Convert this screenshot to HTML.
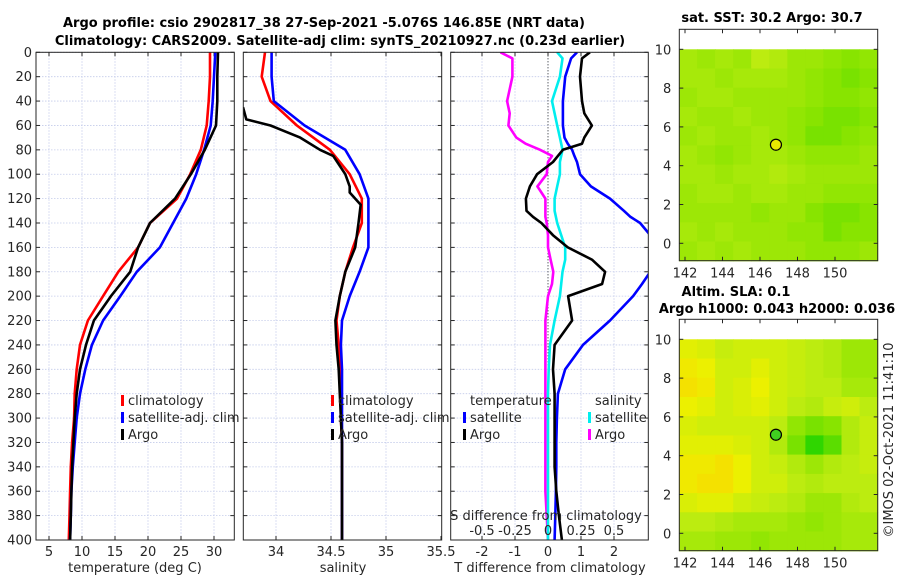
<!DOCTYPE html>
<html><head><meta charset="utf-8">
<style>
body{margin:0;background:#fff;}
svg text{font-family:"DejaVu Sans","Liberation Sans",sans-serif;fill:#262626;}
.t{font-weight:bold;font-size:13px;fill:#000;}
.tk{font-size:13px;}
</style></head>
<body>
<svg id="fig" width="900" height="580" viewBox="0 0 900 580" xmlns="http://www.w3.org/2000/svg">
<text class="t" x="324" y="27" text-anchor="middle">Argo profile: csio 2902817_38 27-Sep-2021 -5.076S 146.85E (NRT data)</text>
<text class="t" x="340" y="45" text-anchor="middle">Climatology: CARS2009. Satellite-adj clim: synTS_20210927.nc (0.23d earlier)</text>
<text class="t" x="772" y="22" text-anchor="middle">sat. SST: 30.2 Argo: 30.7</text>
<text class="t" x="736" y="296" text-anchor="middle">Altim. SLA: 0.1</text>
<text class="t" x="777" y="313" text-anchor="middle">Argo h1000: 0.043 h2000: 0.036</text>
<text class="tk" transform="translate(893,440) rotate(-90)" text-anchor="middle">©IMOS 02-Oct-2021 11:41:10</text>
<g id="root"></g>
</svg>
<script>
// ---- data ----
const depths = [0,20,40,60,80,100,120,140,160,180,200,220,240,260,280,300,320,340,360,380,400];
const tempClim = [29.4,29.4,29.2,28.9,28.0,26.4,24.4,20.3,18.5,15.5,13.2,10.9,9.7,9.2,8.9,8.8,8.5,8.3,8.2,8.1,8.0];
const tempSat  = [30.2,30.0,29.8,29.5,28.5,27.3,25.8,23.8,21.8,18.3,15.8,13.2,11.5,10.5,9.7,9.2,8.9,8.6,8.4,8.3,8.2];
const tempArgo = [30.6,30.5,30.5,30.3,28.6,26.5,24.1,20.3,18.5,17.3,14.4,11.8,10.6,9.7,9.2,8.9,8.7,8.5,8.4,8.3,8.2];
const salClim = [33.90,33.87,33.95,34.19,34.49,34.67,34.78,34.78,34.70,34.63,34.58,34.55,34.57,34.58,34.59,34.59,34.60,34.60,34.60,34.60,34.60];
const salSat  = [33.96,33.96,33.98,34.26,34.63,34.76,34.84,34.84,34.84,34.76,34.67,34.60,34.59,34.60,34.60,34.60,34.60,34.60,34.60,34.60,34.60];
const salArgoDepths = [45,55,60,70,80,85,100,110,115,125,140,160,180,200,220,240,260,280,300,320,340,360,380,400];
const salArgo = [33.70,33.73,33.95,34.22,34.40,34.52,34.63,34.67,34.67,34.77,34.75,34.72,34.63,34.58,34.54,34.55,34.57,34.58,34.59,34.60,34.60,34.60,34.60,34.60];
const diffDepths = [0,5,20,40,50,60,70,75,80,85,90,100,110,120,130,135,140,150,160,170,180,190,200,220,240,260,280,300,320,340,360,380,400];
const tDiffArgo = [1.27,1.03,0.97,1.03,1.1,1.33,1.1,1.03,0.45,0.3,0.15,-0.33,-0.55,-0.67,-0.65,-0.45,-0.2,0.15,0.6,1.33,1.73,1.64,0.61,0.73,0.2,0.15,0.2,0.2,0.2,0.2,0.25,0.33,0.42];
const tDiffSat  = [0.88,0.7,0.52,0.45,0.45,0.45,0.5,0.6,0.73,0.8,0.88,0.97,1.3,1.88,2.3,2.5,2.79,3.1,3.3,3.3,3.1,2.85,2.58,1.88,1.06,0.52,0.3,0.27,0.25,0.25,0.24,0.22,0.2];
const sDiffSat  = [0.07,0.11,0.09,0.03,0.05,0.07,0.09,0.1,0.11,0.1,0.09,0.09,0.07,0.05,0.05,0.06,0.07,0.1,0.13,0.13,0.11,0.1,0.09,0.05,0.015,0.005,0.0,0.0,0.0,0.0,0.0,0.0,0.0];
const sDiffArgo = [-0.36,-0.27,-0.27,-0.31,-0.29,-0.30,-0.24,-0.17,-0.06,0.03,0.0,-0.01,-0.08,-0.02,-0.02,-0.02,-0.01,0.0,0.0,0.02,0.04,0.03,0.0,-0.02,-0.02,-0.02,-0.02,-0.02,-0.02,-0.02,-0.02,-0.01,0.0];
const depthTicks = [0,20,40,60,80,100,120,140,160,180,200,220,240,260,280,300,320,340,360,380,400];
const tempTicks = [5,10,15,20,25,30];
const salTicks = [34,34.5,35,35.5];
const salTickLabels = ["34","34.5","35","35.5"];
const tdTicks = [-2,-1,0,1,2];
const sdTicks = [-0.5,-0.25,0,0.25,0.5];
const sdTickLabels = ["-0.5","-0.25","0","0.25","0.5"];
const mapLonTicks = [142,144,146,148,150];
const mapLatTicks = [0,2,4,6,8,10];
// map grids: rows lat 10->-1 (11 rows), cols lon 141.7->152.3 (11 cols); 0=green,1=yellow
const sstGrid = [
[0.5,0.45,0.5,0.45,0.6,0.55,0.45,0.45,0.4,0.35,0.4],
[0.5,0.5,0.45,0.5,0.5,0.5,0.45,0.4,0.35,0.3,0.35],
[0.45,0.5,0.5,0.45,0.45,0.45,0.45,0.4,0.35,0.35,0.4],
[0.5,0.45,0.45,0.5,0.45,0.45,0.4,0.35,0.3,0.3,0.35],
[0.45,0.5,0.45,0.45,0.5,0.45,0.4,0.3,0.3,0.35,0.4],
[0.5,0.45,0.4,0.45,0.5,0.5,0.45,0.4,0.4,0.4,0.45],
[0.5,0.5,0.45,0.5,0.5,0.55,0.5,0.45,0.45,0.45,0.45],
[0.45,0.5,0.5,0.45,0.5,0.5,0.45,0.45,0.4,0.4,0.4],
[0.45,0.45,0.45,0.45,0.4,0.45,0.45,0.35,0.3,0.3,0.35],
[0.5,0.45,0.5,0.45,0.45,0.45,0.4,0.4,0.3,0.35,0.35],
[0.45,0.5,0.45,0.5,0.45,0.45,0.45,0.4,0.4,0.4,0.45]];
const slaGrid = [
[0.8,0.75,0.65,0.7,0.7,0.7,0.65,0.6,0.55,0.45,0.45],
[0.9,0.85,0.7,0.7,0.8,0.7,0.65,0.6,0.55,0.45,0.45],
[0.95,0.9,0.7,0.75,0.85,0.7,0.65,0.6,0.6,0.5,0.5],
[0.85,0.8,0.7,0.75,0.8,0.7,0.6,0.55,0.65,0.7,0.6],
[0.75,0.7,0.7,0.7,0.7,0.6,0.4,0.3,0.35,0.55,0.65],
[0.8,0.8,0.8,0.75,0.7,0.55,0.3,0.05,0.2,0.55,0.65],
[0.9,0.9,0.95,0.85,0.7,0.65,0.55,0.45,0.55,0.6,0.65],
[0.9,0.95,0.95,0.85,0.7,0.7,0.6,0.55,0.6,0.6,0.6],
[0.75,0.8,0.8,0.7,0.65,0.6,0.55,0.45,0.45,0.55,0.6],
[0.6,0.6,0.55,0.5,0.5,0.5,0.45,0.4,0.45,0.5,0.5],
[0.5,0.5,0.45,0.45,0.4,0.45,0.45,0.45,0.45,0.5,0.5]];
const argoLon = 146.85, argoLat = 5.08;

// ---- helpers ----
const NS="http://www.w3.org/2000/svg";
const root=document.getElementById('root');
function mk(tag,attrs,parent){const e=document.createElementNS(NS,tag);for(const k in attrs)e.setAttribute(k,attrs[k]);(parent||root).appendChild(e);return e;}
const top0=52.3,bot0=540;
const yD=d=>top0+(d-0)*(bot0-top0)/400;
function lin(d0,d1,r0,r1){return v=>r0+(v-d0)*(r1-r0)/(d1-d0);}
const panels=[
 {name:'temperature-panel',x0:36,x1:234.3,sc:lin(5,30,49,214)},
 {name:'salinity-panel',x0:243.3,x1:441.7,sc:lin(34,35.5,276,441)},
 {name:'difference-panel',x0:450.7,x1:648.3,sc:lin(0,1,548,581)}];
const sdScale=lin(0,0.5,548,614);
const ticksX=[tempTicks,salTicks,tdTicks];
const tickLab=[tempTicks.map(String),salTickLabels,tdTicks.map(String)];
panels.forEach((p,i)=>{
  const g=mk('g',{});
  
  
  mk('rect',{x:p.x0,y:top0,width:p.x1-p.x0,height:bot0-top0,fill:'#fff'},g);
  const cp='clip'+i;
  const cl=mk('clipPath',{id:cp},g);mk('rect',{x:p.x0,y:top0,width:p.x1-p.x0,height:bot0-top0},cl);
  depthTicks.forEach(d=>{const y=yD(d);
    mk('line',{x1:p.x0,x2:p.x1,y1:y,y2:y,stroke:'#c4cbea','stroke-width':0.8,'stroke-dasharray':'1.5,1.5'},g);
    mk('line',{x1:p.x0,x2:p.x0+4,y1:y,y2:y,stroke:'#262626'},g);
    mk('line',{x1:p.x1-4,x2:p.x1,y1:y,y2:y,stroke:'#262626'},g);
    if(i===0){const t=mk('text',{x:p.x0-4,y:y+4.5,'text-anchor':'end',class:'tk'},g);t.textContent=d;
      
      }
  });
  ticksX[i].forEach((v,j)=>{const x=p.sc(v);
    if(x>p.x0+1&&x<p.x1-1){mk('line',{x1:x,x2:x,y1:top0,y2:bot0,stroke:'#c4cbea','stroke-width':0.8,'stroke-dasharray':'1.5,1.5'},g);}
    mk('line',{x1:x,x2:x,y1:bot0,y2:bot0-4,stroke:'#262626'},g);
    mk('line',{x1:x,x2:x,y1:top0,y2:top0+4,stroke:'#262626'},g);
    const t=mk('text',{x:x,y:556,'text-anchor':'middle',class:'tk'},g);t.textContent=tickLab[i][j];
    
    
  });
  p.g=g;p.cp=cp;
});
// zero line diff panel
mk('line',{x1:548,x2:548,y1:top0,y2:bot0,stroke:'#333','stroke-width':1,'stroke-dasharray':'1,2'},panels[2].g);
function line(p,xs,ds,sc,color,name){
  const pts=xs.map((v,k)=>sc(v).toFixed(1)+','+yD(ds[k]).toFixed(1)).join(' ');
  const pl=mk('polyline',{points:pts,fill:'none',stroke:color,'stroke-width':2.6,'stroke-linejoin':'round','clip-path':'url(#'+p.cp+')'},p.g);
  
  
}
const P=panels;
line(P[0],tempClim,depths,P[0].sc,'#ff0000','temp-climatology-line');
line(P[0],tempSat,depths,P[0].sc,'#0000ff','temp-satellite-line');
line(P[0],tempArgo,depths,P[0].sc,'#000000','temp-argo-line');
line(P[1],salClim,depths,P[1].sc,'#ff0000','sal-climatology-line');
line(P[1],salSat,depths,P[1].sc,'#0000ff','sal-satellite-line');
line(P[1],salArgo,salArgoDepths,P[1].sc,'#000000','sal-argo-line');
line(P[2],sDiffArgo,diffDepths,sdScale,'#ff00ff','sdiff-argo-line');
line(P[2],sDiffSat,diffDepths,sdScale,'#00eeee','sdiff-satellite-line');
line(P[2],tDiffSat,diffDepths,P[2].sc,'#0000ff','tdiff-satellite-line');
line(P[2],tDiffArgo,diffDepths,P[2].sc,'#000000','tdiff-argo-line');
panels.forEach(p=>mk('rect',{x:p.x0,y:top0,width:p.x1-p.x0,height:bot0-top0,fill:'none',stroke:'#262626','stroke-width':1},p.g));
// legends
function leg(g,x,y,color,label,name){
  if(color)mk('rect',{x:x-7,y:y-10,width:3,height:11,fill:color},g);
  const t=mk('text',{x:x,y:y,class:'tk','font-size':13},g);t.textContent=label;
  
  
}
leg(P[0].g,128,405,'#ff0000','climatology','legend-climatology');
leg(P[0].g,128,422,'#0000ff','satellite-adj. clim','legend-satellite-adj');
leg(P[0].g,128,439,'#000000','Argo','legend-argo');
leg(P[1].g,338,405,'#ff0000','climatology','legend-climatology-2');
leg(P[1].g,338,422,'#0000ff','satellite-adj. clim','legend-satellite-adj-2');
leg(P[1].g,338,439,'#000000','Argo','legend-argo-2');
leg(P[2].g,470,405,null,'temperature','legend-temperature-header');
leg(P[2].g,470,422,'#0000ff','satellite','legend-tdiff-satellite');
leg(P[2].g,470,439,'#000000','Argo','legend-tdiff-argo');
leg(P[2].g,595,405,null,'salinity','legend-salinity-header');
leg(P[2].g,595,422,'#00eeee','satellite','legend-sdiff-satellite');
leg(P[2].g,595,439,'#ff00ff','Argo','legend-sdiff-argo');
const sdl=mk('text',{x:546,y:520,'text-anchor':'middle',class:'tk','font-size':13},P[2].g);sdl.textContent='S difference from climatology';


sdTicks.forEach((v,j)=>{const t=mk('text',{x:sdScale(v),y:535,'text-anchor':'middle',class:'tk','font-size':13},P[2].g);t.textContent=sdTickLabels[j];
  
  });
[['temperature (deg C)',135,'x-axis-title-temperature'],['salinity',343,'x-axis-title-salinity'],['T difference from climatology',550,'x-axis-title-tdiff']].forEach(a=>{
  const t=mk('text',{x:a[1],y:572,'text-anchor':'middle',class:'tk','font-size':13});t.textContent=a[0];
  
  });
// maps
const stops=[[0,[32,212,0]],[0.35,[136,228,0]],[0.6,[188,236,16]],[0.85,[236,240,0]],[1,[248,218,0]]];
function cmap(v){for(let i=1;i<stops.length;i++){if(v<=stops[i][0]){const a=stops[i-1],b=stops[i];const f=(v-a[0])/(b[0]-a[0]);
  return 'rgb('+a[1].map((c,k)=>Math.round(c+(b[1][k]-c)*f)).join(',')+')';}}return 'rgb(248,218,0)';}
function drawMap(grid,dy,name,circleColor){
  const g=mk('g',{});
  
  
  const L=679.3,R=877.7,T=29.3+dy,B=260.7+dy;
  const xs=lin(142,150,685,835), ys=lin(0,10,243.3+dy,49.3+dy);
  const lon0=141.68,lon1=152.27,lat0=10,lat1=-0.9;
  const nr=grid.length,nc=grid[0].length;
  grid.forEach((row,r)=>row.forEach((v,c)=>{
    const x0=xs(lon0+(lon1-lon0)*c/nc),x1=xs(lon0+(lon1-lon0)*(c+1)/nc);
    const y0=ys(lat0+(lat1-lat0)*r/nr),y1=ys(lat0+(lat1-lat0)*(r+1)/nr);
    const cell=mk('rect',{x:x0.toFixed(1),y:y0.toFixed(1),width:(x1-x0+0.6).toFixed(1),height:(y1-y0+0.6).toFixed(1),fill:cmap(v)},g);
    
    
  }));
  mk('rect',{x:L,y:T,width:R-L,height:B-T,fill:'none',stroke:'#262626'},g);
  mapLonTicks.forEach(v=>{const x=xs(v);mk('line',{x1:x,x2:x,y1:B,y2:B-4,stroke:'#262626'},g);mk('line',{x1:x,x2:x,y1:T,y2:T+4,stroke:'#262626'},g);
    const t=mk('text',{x:x,y:B+17,'text-anchor':'middle',class:'tk','font-size':13},g);t.textContent=v;
    
    });
  mapLatTicks.forEach(v=>{const y=ys(v);mk('line',{x1:L,x2:L+4,y1:y,y2:y,stroke:'#262626'},g);mk('line',{x1:R-4,x2:R,y1:y,y2:y,stroke:'#262626'},g);
    const t=mk('text',{x:L-8,y:y+5,'text-anchor':'end',class:'tk','font-size':13},g);t.textContent=v;
    
    });
  const c=mk('circle',{cx:xs(argoLon),cy:ys(argoLat),r:5.5,fill:circleColor,stroke:'#000','stroke-width':1.2},g);
  
  
}
drawMap(sstGrid,0,'sst-map','#e8e800');
drawMap(slaGrid,290,'sla-map','#40d020');
</script>
</body></html>
